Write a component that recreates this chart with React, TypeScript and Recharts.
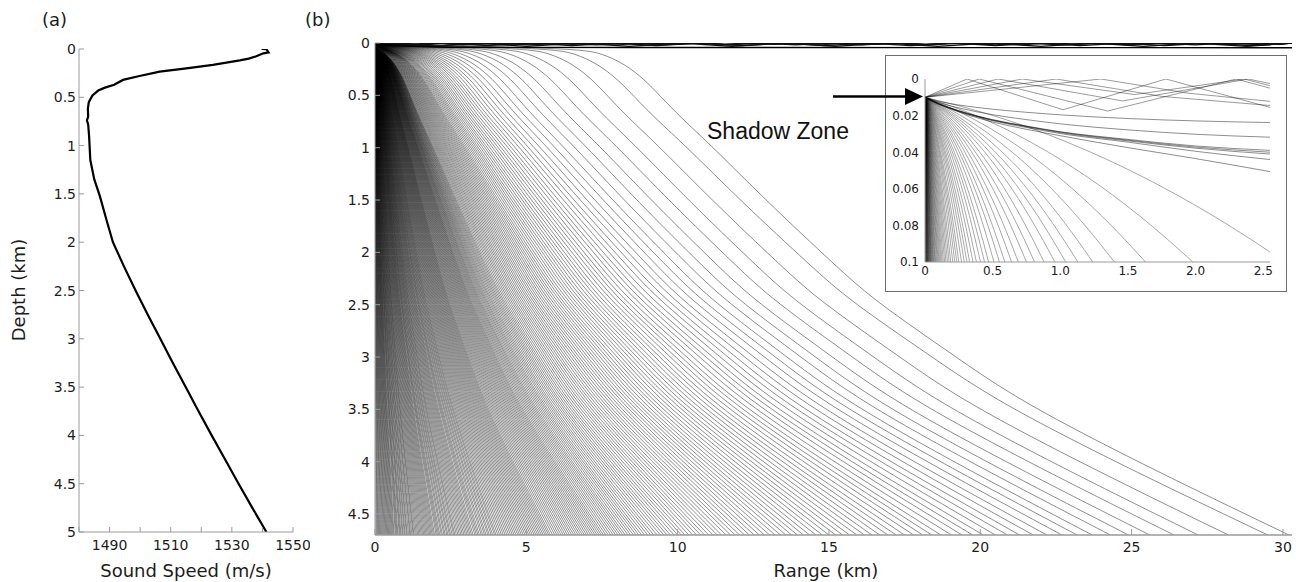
import React from "react";
import { LineChart, Line, XAxis, YAxis } from "recharts";

// ---------- panel (a): sound speed profile ----------
const PROFILE_SPEED = [
  1539.7, 1541.3, 1542.0, 1540.3, 1538.0, 1535.5, 1532.6, 1523.8, 1515.1, 1506.4,
  1499.8, 1494.4, 1491.5, 1488.5, 1486.3, 1484.4, 1483.2, 1482.9, 1483.0, 1482.6,
  1483.0, 1483.3, 1483.7, 1485.0, 1486.8, 1489.0, 1491.1, 1494.7, 1498.5, 1502.5,
  1506.6, 1510.7, 1514.9, 1519.1, 1523.4, 1527.8, 1532.2, 1536.7, 1541.3,
];
const PROFILE_DEPTH = [
  0, 0.002, 0.035, 0.045, 0.075, 0.1, 0.118, 0.165, 0.2, 0.235,
  0.28, 0.32, 0.37, 0.4, 0.43, 0.48, 0.55, 0.62, 0.7, 0.74,
  0.78, 0.9, 1.15, 1.35, 1.52, 1.77, 2.0, 2.25, 2.5, 2.75,
  3.0, 3.25, 3.5, 3.75, 4.0, 4.25, 4.5, 4.75, 5.0,
];
const SPEED_TICKS = [1480, 1490, 1500, 1510, 1520, 1530, 1540, 1550];
const SPEED_LABELS = [1490, 1510, 1530, 1550];
const PROFILE_DEPTH_TICKS = [0, 0.5, 1, 1.5, 2, 2.5, 3, 3.5, 4, 4.5, 5];

// ---------- panel (b): ray fan ----------
const SOURCE_DEPTH = 0.01;

// range (km) where each ray reaches the 4.7 km bottom
const RAY_BOTTOM_RANGE = [
  30.2, 29.5, 28.2, 27.2, 26.4, 25.6, 24.9, 24.3, 23.7, 23.2,
  22.7, 22.2, 21.75, 21.3, 20.9, 20.5, 20.1, 19.75, 19.4, 19.05,
  18.7, 18.4, 18.1, 17.8, 17.5, 17.22, 16.95, 16.68, 16.42, 16.17,
  15.92, 15.68, 15.45, 15.22, 15.0, 14.78, 14.57, 14.36, 14.16, 13.96,
  13.77, 13.58, 13.4, 13.22, 13.04, 12.87, 12.7, 12.53, 12.37, 12.21,
  12.05, 11.9, 11.75, 11.6, 11.45, 11.31, 11.17, 11.03, 10.89, 10.76,
  10.63, 10.5, 10.37, 10.24, 10.12,
  10.0, 9.88, 9.76, 9.65, 9.54, 9.43, 9.32, 9.21, 9.11, 9.01, 8.91, 8.81,
  8.72, 8.63, 8.54, 8.45, 8.36, 8.27, 8.19, 8.11, 8.03, 7.95, 7.87, 7.79,
  7.71, 7.63, 7.55, 7.48, 7.41, 7.34, 7.27, 7.2, 7.13, 7.06, 6.99, 6.92,
  6.85, 6.78, 6.71, 6.64, 6.57, 6.5, 6.43, 6.36, 6.29, 6.22, 6.15, 6.08,
  6.01, 5.94, 5.87, 5.8, 5.74, 5.68, 5.62, 5.56, 5.5, 5.44, 5.38, 5.32,
  5.26, 5.2, 5.14, 5.08, 5.02,
  4.96, 4.9, 4.84, 4.78, 4.72, 4.66, 4.6, 4.54, 4.48, 4.42, 4.36, 4.3,
  4.24, 4.18, 4.12, 4.06, 4.0, 3.95, 3.89, 3.84, 3.78, 3.73, 3.67, 3.62,
  3.56, 3.51, 3.45, 3.4, 3.35, 3.3, 3.24, 3.19, 3.14, 3.09, 3.04, 2.99,
  2.94, 2.89, 2.84, 2.79, 2.74, 2.69, 2.64, 2.6, 2.55, 2.5, 2.46, 2.41,
  2.37, 2.32, 2.28, 2.23, 2.19, 2.14, 2.1, 2.06, 2.02, 1.97, 1.93, 1.89,
  1.85, 1.81, 1.77, 1.73, 1.69, 1.65, 1.61, 1.57, 1.53, 1.49, 1.45, 1.41,
  1.37, 1.33, 1.29, 1.26, 1.22, 1.18, 1.15, 1.11, 1.07, 1.04, 1.0, 0.97,
  0.93, 0.9, 0.86, 0.83, 0.8, 0.76, 0.73, 0.7, 0.67, 0.63, 0.6, 0.57,
  0.54, 0.51, 0.48, 0.45, 0.42, 0.39, 0.36, 0.33, 0.3, 0.27, 0.24, 0.21,
  0.18, 0.15, 0.12, 0.09, 0.06, 0.03,
];

// range (km) where the shallow rays leave the surface layer (0.05 km); steeper rays leave at 0
const RAY_DEPART_RANGE = [
  6.7, 5.8, 5.0, 4.3, 3.7, 3.2, 2.8, 2.45, 2.15, 1.9,
  1.7, 1.53, 1.39, 1.27, 1.17, 1.08, 1.0, 0.93, 0.87, 0.81,
  0.76, 0.71, 0.66, 0.62, 0.58, 0.54, 0.51, 0.48, 0.45, 0.42,
  0.4, 0.38, 0.36, 0.34, 0.32, 0.3, 0.28, 0.27, 0.26, 0.25,
  0.24, 0.23, 0.22, 0.21, 0.2, 0.19, 0.18, 0.17, 0.16, 0.15,
  0.14, 0.13, 0.12, 0.11, 0.1, 0.09, 0.08, 0.07, 0.06, 0.05,
  0.04, 0.03, 0.02, 0.01,
];

// shape of the last ray: depth vs. fraction of the way from departure to bottom hit
const RAY_SHAPE_DEPTH = [0.05, 0.1, 0.2, 0.35, 0.5, 0.7, 1.0, 1.5, 2.15, 2.46, 3.0, 3.42, 4.06, 4.7];
const RAY_SHAPE_FRAC = [0, 0.034, 0.066, 0.094, 0.115, 0.143, 0.191, 0.264, 0.366, 0.417, 0.532, 0.621, 0.804, 1];

// rays trapped in the surface duct: ranges where they alternately touch the surface and their trough
const DUCT_A_TURNS = [0.31, 1.02, 1.78, 2.9, 4.0, 5.1, 6.2, 7.3, 8.4, 9.5, 10.6, 11.7, 12.8, 13.9, 15.0, 16.1, 17.2, 18.3, 19.4, 20.5, 21.6, 22.7, 23.8, 24.9, 26.0, 27.1, 28.2, 29.3, 30.3];
const DUCT_B_TURNS = [0.4, 1.35, 2.3, 3.7, 5.1, 6.5, 7.9, 9.3, 10.7, 12.1, 13.5, 14.9, 16.3, 17.7, 19.1, 20.5, 21.9, 23.3, 24.7, 26.1, 27.5, 28.9, 30.3];
const DUCT_C_TURNS = [0.54, 1.45, 2.39, 3.2, 4.05, 4.9, 5.7, 6.55, 7.4, 8.2, 9.05, 9.9, 10.7, 11.55, 12.4, 13.2, 14.05, 14.9, 15.7, 16.55, 17.4, 18.2, 19.05, 19.9, 20.7, 21.55, 22.4, 23.2, 24.05, 24.9, 25.7, 26.55, 27.4, 28.2, 29.05, 29.9, 30.3];
const DUCT_D_TURNS = [0.72, 2.0, 3.3, 5.0, 6.7, 8.4, 10.1, 11.8, 13.5, 15.2, 16.9, 18.6, 20.3, 22.0, 23.7, 25.4, 27.1, 28.8, 30.3];
const DUCT_TROUGH = [0.018, 0.025, 0.012, 0.032];

// near-horizontal bundle hugging the duct floor
const BUNDLE_RANGE = [0, 0.5, 1.0, 1.5, 2.0, 2.55, 5, 10, 20, 30.3];
const BUNDLE_DEPTH = [0.01, 0.0225, 0.0295, 0.034, 0.0375, 0.04, 0.042, 0.043, 0.044, 0.045];

const RANGE_TICKS = [0, 5, 10, 15, 20, 25, 30];
const DEPTH_TICKS = [0, 0.5, 1, 1.5, 2, 2.5, 3, 3.5, 4, 4.5];

// ---------- inset: first 2.5 km, top 100 m ----------
// range (km) where each diving ray reaches 0.1 km
const INSET_DIVE_END = [
  2.66, 1.98, 1.63, 1.4, 1.24, 1.13, 1.04, 0.96, 0.88, 0.81, 0.75, 0.69, 0.64, 0.59,
  0.55, 0.51, 0.47, 0.44, 0.41, 0.38, 0.355, 0.33, 0.31, 0.29, 0.27, 0.25, 0.235,
  0.22, 0.205, 0.19, 0.178, 0.166, 0.155, 0.145, 0.135, 0.126, 0.118, 0.11, 0.103,
  0.096, 0.09, 0.084, 0.078, 0.073, 0.068, 0.063, 0.059, 0.055, 0.051, 0.047, 0.044,
  0.041, 0.038, 0.035, 0.032, 0.029, 0.027, 0.024, 0.022, 0.02, 0.018, 0.016, 0.014,
  0.012, 0.01, 0.008, 0.006, 0.004, 0.002,
];
const INSET_DIVE_FRAC = [0, 0.1, 0.2, 0.3, 0.4, 0.5, 0.6, 0.7, 0.8, 0.9, 1];
const INSET_DIVE_DEPTH = [0.01, 0.0148, 0.0205, 0.0271, 0.0348, 0.0433, 0.0528, 0.0632, 0.0745, 0.0868, 0.1];

const INSET_LEVEL_RANGE = [0, 0.1, 0.25, 0.5, 0.75, 1.0, 1.5, 2.0, 2.55];
const INSET_LEVEL_A = [0.01, 0.0138, 0.018, 0.0235, 0.0275, 0.031, 0.0375, 0.0435, 0.0506];
const INSET_LEVEL_B = [0.01, 0.0136, 0.0177, 0.0228, 0.0265, 0.0298, 0.0345, 0.0395, 0.044];
const INSET_LEVEL_C = [0.01, 0.0135, 0.0175, 0.0225, 0.026, 0.0293, 0.0338, 0.0378, 0.041];
const INSET_LEVEL_D = [0.01, 0.0135, 0.0174, 0.0224, 0.0259, 0.029, 0.0334, 0.0372, 0.04];
const INSET_LEVEL_E = [0.01, 0.0134, 0.0173, 0.0222, 0.0257, 0.0288, 0.033, 0.0366, 0.039];
const INSET_LEVEL_F = [0.01, 0.0128, 0.0158, 0.0195, 0.0222, 0.0245, 0.0278, 0.0302, 0.0318];
const INSET_LEVEL_G = [0.01, 0.0122, 0.0142, 0.0165, 0.0182, 0.0196, 0.0216, 0.0229, 0.0238];

const BOUNCE_1_RANGE = [0, 0.31, 1.02, 1.78, 2.55];
const BOUNCE_1_DEPTH = [0.01, 0, 0.0168, 0, 0.0155];
const BOUNCE_2_RANGE = [0, 0.4, 1.35, 2.3, 2.55];
const BOUNCE_2_DEPTH = [0.01, 0, 0.0175, 0, 0.005];
const BOUNCE_3_RANGE = [0, 0.54, 1.46, 2.39, 2.55];
const BOUNCE_3_DEPTH = [0.01, 0, 0.012, 0, 0.0025];
const BOUNCE_4_RANGE = [0, 0.72, 1.55, 2.36, 2.55];
const BOUNCE_4_DEPTH = [0.01, 0, 0.0085, 0, 0.0037];
const BOUNCE_5_RANGE = [0, 0.97, 1.75, 2.55];
const BOUNCE_5_DEPTH = [0.01, 0, 0.0095, 0.0145];
const BOUNCE_6_RANGE = [0, 1.3, 1.95, 2.55];
const BOUNCE_6_DEPTH = [0.01, 0, 0.0078, 0.0122];

const INSET_RANGE_TICKS = [0, 0.5, 1, 1.5, 2, 2.5];
const INSET_DEPTH_TICKS = [0, 0.02, 0.04, 0.06, 0.08, 0.1];

// ---------- styling ----------
const AXIS_GREY = "#9a9a9a";
const TEXT = "#1c1c1c";
const SANS = "'DejaVu Sans', Verdana, sans-serif";

type Pt = { x: number; z: number };
const zip = (xs: number[], zs: number[]): Pt[] => xs.map((x, i) => ({ x, z: zs[i] }));

const mainRays: Pt[][] = RAY_BOTTOM_RANGE.map((b, i) => {
  const d = RAY_DEPART_RANGE[i] ?? 0;
  return [
    { x: 0, z: SOURCE_DEPTH },
    ...RAY_SHAPE_DEPTH.map((z, k) => ({ x: d + RAY_SHAPE_FRAC[k] * (b - d), z })),
  ];
});

const ductRays: Pt[][] = [DUCT_A_TURNS, DUCT_B_TURNS, DUCT_C_TURNS, DUCT_D_TURNS].map((turns, r) => [
  { x: 0, z: SOURCE_DEPTH },
  ...turns.map((x, k) => ({ x, z: k % 2 === 0 ? 0 : DUCT_TROUGH[r] })),
]);

const insetDives: Pt[][] = INSET_DIVE_END.map((end) =>
  INSET_DIVE_FRAC.map((f, k) => ({ x: end * f, z: INSET_DIVE_DEPTH[k] }))
);
const insetLevels: Pt[][] = [
  INSET_LEVEL_A, INSET_LEVEL_B, INSET_LEVEL_C, INSET_LEVEL_D, INSET_LEVEL_E, INSET_LEVEL_F, INSET_LEVEL_G,
].map((zs) => zip(INSET_LEVEL_RANGE, zs));
const insetBounces: Pt[][] = [
  zip(BOUNCE_1_RANGE, BOUNCE_1_DEPTH),
  zip(BOUNCE_2_RANGE, BOUNCE_2_DEPTH),
  zip(BOUNCE_3_RANGE, BOUNCE_3_DEPTH),
  zip(BOUNCE_4_RANGE, BOUNCE_4_DEPTH),
  zip(BOUNCE_5_RANGE, BOUNCE_5_DEPTH),
  zip(BOUNCE_6_RANGE, BOUNCE_6_DEPTH),
];

const profile = PROFILE_SPEED.map((speed, i) => ({ speed, depth: PROFILE_DEPTH[i] }));

// inward tick mark plus optional label
function InTick(props: any) {
  const { x = 0, y = 0, payload, side, gap = 0, len = 5, show, fmt, size = 14 } = props;
  const v: number = payload ? payload.value : 0;
  const label = show ? show(v) : false;
  const txt = fmt ? fmt(v) : String(v);
  const ln = { stroke: AXIS_GREY, strokeWidth: 1 };
  const tx = { fontSize: size, fill: TEXT, fontFamily: SANS };
  if (side === "bottom") {
    const ay = y - gap;
    return (
      <g>
        <line x1={x} x2={x} y1={ay} y2={ay - len} {...ln} />
        {label && <text x={x} y={y} dy="0.74em" textAnchor="middle" {...tx}>{txt}</text>}
      </g>
    );
  }
  if (side === "top") {
    const ay = y + gap;
    return <line x1={x} x2={x} y1={ay} y2={ay + len} {...ln} />;
  }
  if (side === "left") {
    const ax = x + gap;
    return (
      <g>
        <line x1={ax} x2={ax + len} y1={y} y2={y} {...ln} />
        {label && <text x={x} y={y} dy="0.36em" textAnchor="end" {...tx}>{txt}</text>}
      </g>
    );
  }
  const ax = x - gap;
  return <line x1={ax} x2={ax - len} y1={y} y2={y} {...ln} />;
}

function ProfileChart() {
  return (
    <LineChart width={310} height={582} margin={{ top: 49, right: 17, bottom: 20, left: 39 }}>
      <XAxis
        xAxisId="b" type="number" dataKey="speed" domain={[1480, 1550]} allowDataOverflow
        ticks={SPEED_TICKS} interval={0} height={30} tickSize={0} tickMargin={8} tickLine={false}
        axisLine={{ stroke: AXIS_GREY }}
        tick={(p: any) => <InTick {...p} side="bottom" gap={8} show={(v: number) => SPEED_LABELS.includes(v)} />}
      />
      <XAxis
        xAxisId="t" orientation="top" type="number" domain={[1480, 1550]} allowDataOverflow
        ticks={SPEED_TICKS} interval={0} height={0} tickSize={0} tickMargin={0} tickLine={false}
        axisLine={{ stroke: AXIS_GREY }}
        tick={(p: any) => <InTick {...p} side="top" gap={0} />}
      />
      <YAxis
        yAxisId="l" type="number" domain={[0, 5]} reversed allowDataOverflow
        ticks={PROFILE_DEPTH_TICKS} interval={0} width={40} tickSize={0} tickMargin={3} tickLine={false}
        axisLine={{ stroke: AXIS_GREY }}
        tick={(p: any) => <InTick {...p} side="left" gap={3} show={() => true} />}
      />
      <YAxis
        yAxisId="r" orientation="right" type="number" domain={[0, 5]} reversed allowDataOverflow
        ticks={PROFILE_DEPTH_TICKS} interval={0} width={0} tickSize={0} tickMargin={0} tickLine={false}
        axisLine={{ stroke: AXIS_GREY }}
        tick={(p: any) => <InTick {...p} side="right" gap={0} />}
      />
      <Line
        xAxisId="b" yAxisId="l" data={profile} dataKey="depth" type="linear"
        stroke="#000" strokeWidth={2.2} dot={false} activeDot={false} isAnimationActive={false}
      />
    </LineChart>
  );
}

function RayChart() {
  return (
    <LineChart width={996} height={582} margin={{ top: 43, right: 4, bottom: 17, left: 35 }}>
      <XAxis
        type="number" dataKey="x" domain={[0, 30.3]} allowDataOverflow
        ticks={RANGE_TICKS} interval={0} height={30} tickSize={0} tickMargin={7} tickLine={false}
        axisLine={{ stroke: AXIS_GREY, strokeWidth: 1.5 }}
        tick={(p: any) => <InTick {...p} side="bottom" gap={7} len={6} show={() => true} />}
      />
      <YAxis
        type="number" domain={[0, 4.7]} reversed allowDataOverflow
        ticks={DEPTH_TICKS} interval={0} width={40} tickSize={0} tickMargin={5} tickLine={false}
        axisLine={{ stroke: AXIS_GREY }}
        tick={(p: any) => <InTick {...p} side="left" gap={5} show={() => true} />}
      />
      {mainRays.map((ray, i) => (
        <Line
          key={"r" + i} data={ray} dataKey="z" type="basis" stroke="#000" strokeWidth={0.45}
          dot={false} activeDot={false} isAnimationActive={false}
        />
      ))}
      {ductRays.map((ray, i) => (
        <Line
          key={"d" + i} data={ray} dataKey="z" type="linear" stroke="#111" strokeWidth={1.4}
          dot={false} activeDot={false} isAnimationActive={false}
        />
      ))}
      <Line
        data={zip(BUNDLE_RANGE, BUNDLE_DEPTH)} dataKey="z" type="monotone" stroke="#000" strokeWidth={1.4}
        dot={false} activeDot={false} isAnimationActive={false}
      />
    </LineChart>
  );
}

function InsetChart() {
  return (
    <LineChart width={400} height={235} margin={{ top: 23, right: 16, bottom: 11, left: 9 }}>
      <XAxis
        type="number" dataKey="x" domain={[0, 2.55]} allowDataOverflow
        ticks={INSET_RANGE_TICKS} interval={0} height={18} tickSize={0} tickMargin={4} tickLine={false}
        axisLine={{ stroke: AXIS_GREY }}
        tick={(p: any) => (
          <InTick {...p} side="bottom" gap={4} len={0} size={12} show={() => true}
            fmt={(v: number) => (v === 0 ? "0" : v.toFixed(1))} />
        )}
      />
      <YAxis
        type="number" domain={[0, 0.1]} reversed allowDataOverflow
        ticks={INSET_DEPTH_TICKS} interval={0} width={30} tickSize={0} tickMargin={6} tickLine={false}
        axisLine={{ stroke: AXIS_GREY }}
        tick={(p: any) => <InTick {...p} side="left" gap={6} len={0} size={12} show={() => true} />}
      />
      {insetDives.map((ray, i) => (
        <Line
          key={"v" + i} data={ray} dataKey="z" type="basis" stroke="#000" strokeWidth={0.35}
          dot={false} activeDot={false} isAnimationActive={false}
        />
      ))}
      {insetLevels.map((ray, i) => (
        <Line
          key={"l" + i} data={ray} dataKey="z" type="monotone" stroke="#000" strokeWidth={0.45}
          dot={false} activeDot={false} isAnimationActive={false}
        />
      ))}
      {insetBounces.map((ray, i) => (
        <Line
          key={"b" + i} data={ray} dataKey="z" type="linear" stroke="#000" strokeWidth={0.4}
          dot={false} activeDot={false} isAnimationActive={false}
        />
      ))}
    </LineChart>
  );
}

export default function App() {
  return (
    <div style={{ position: "relative", width: 1296, height: 582, background: "#fff", overflow: "hidden" }}>
      <style>{"body{margin:0}"}</style>
      <div style={{ position: "absolute", left: 0, top: 0 }}>
        <ProfileChart />
      </div>
      <div style={{ position: "absolute", left: 300, top: 0 }}>
        <RayChart />
      </div>
      <div
        style={{
          position: "absolute", left: 885, top: 55, width: 402, height: 237,
          border: "1px solid #6e6e6e", boxSizing: "border-box", background: "#fff",
        }}
      >
        <InsetChart />
      </div>
      <svg width={1296} height={582} style={{ position: "absolute", left: 0, top: 0, pointerEvents: "none" }}>
        <g fontFamily={SANS} fill={TEXT}>
          <text x={42} y={26} fontSize={18}>(a)</text>
          <text x={305} y={26} fontSize={18}>(b)</text>
          <text x={25} y={290} fontSize={18} textAnchor="middle" transform="rotate(-90 25 290)">Depth (km)</text>
          <text x={186} y={577} fontSize={18} textAnchor="middle">Sound Speed (m/s)</text>
          <text x={826} y={577} fontSize={18} textAnchor="middle">Range (km)</text>
        </g>
        <text x={707} y={138.5} fontSize={23} fontFamily="'Liberation Sans', Arial, sans-serif" fill="#111">
          Shadow Zone
        </text>
        <line x1={833} y1={96.5} x2={908} y2={96.5} stroke="#000" strokeWidth={2.5} />
        <polygon points="905,88 923,96.5 905,105" fill="#000" />
      </svg>
    </div>
  );
}
